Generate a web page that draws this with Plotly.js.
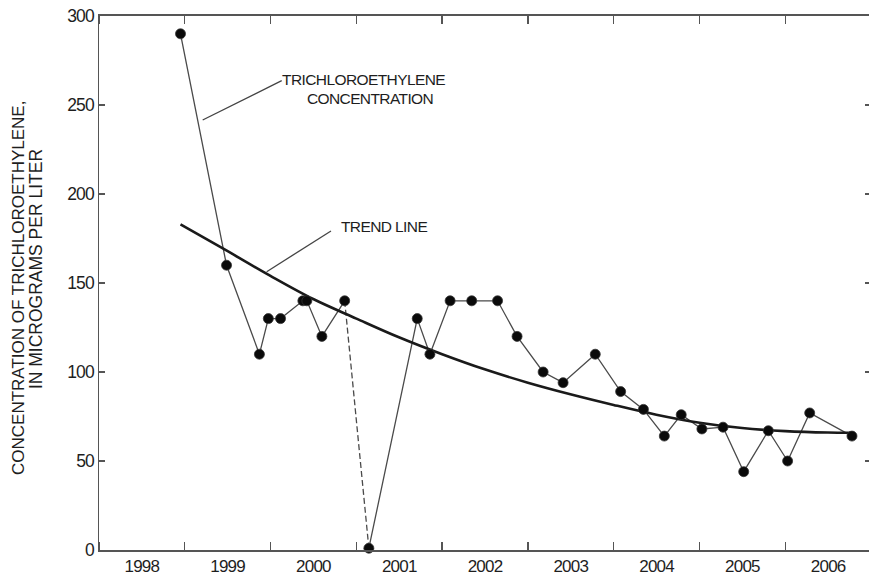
<!DOCTYPE html>
<html><head><meta charset="utf-8">
<script src="https://cdn.plot.ly/plotly-3.0.1.min.js"></script>
<style>
html,body{margin:0;padding:0;overflow:hidden;background:#fff}
#chart .xtick text, #chart .ytick text{letter-spacing:-0.8px}
#chart .annotation[data-index="0"] text,
#chart .annotation[data-index="1"] text,
#chart .annotation[data-index="2"] text{letter-spacing:-0.6px}
</style>
</head><body><div id="chart" style="width:871px;height:584px"></div>
<script>
// Sampling dates and trichloroethylene concentration (micrograms per liter)
const sampleDates = ['1998-12-14','1999-06-28','1999-11-15','1999-12-23','2000-02-13','2000-05-18','2000-06-04','2000-08-07','2000-11-12','2001-02-23','2001-09-17','2001-11-10','2002-02-04','2002-05-07','2002-08-25','2002-11-16','2003-03-07','2003-05-31','2003-10-15','2004-01-31','2004-05-07','2004-08-04','2004-10-15','2005-01-11','2005-04-11','2005-07-08','2005-10-21','2006-01-11','2006-04-15','2006-10-12'];
const tceConcentration = [290,160,110,130,130,140,140,120,140,1,130,110,140,140,140,120,100,94,110,89,79,64,76,68,69,44,67,50,77,64];

// Trend line
const trendDates = ['1998-12-14','1999-07-01','2000-01-01','2000-07-01','2001-01-01','2001-07-01','2002-01-01','2002-07-01','2003-01-01','2003-07-01','2004-01-01','2004-07-01','2005-01-01','2005-07-01','2006-01-01','2006-07-01','2006-10-12'];
const trendValues = [183,168,154,141,130,119.5,110,101.5,94,87.5,81.5,76,71.5,68.5,66.8,66,65.9];

const yTickValues = [0,50,100,150,200,250,300];

const FONT = '"Liberation Sans", Arial, Helvetica, sans-serif';

const lineStyle = {color:'#4a4a4a', width:1.3};

const traces = [
  {x: sampleDates.slice(0,9), y: tceConcentration.slice(0,9), mode:'lines', line: lineStyle, hoverinfo:'skip'},
  {x: sampleDates.slice(8,10), y: tceConcentration.slice(8,10), mode:'lines', line: Object.assign({}, lineStyle, {dash:'6px,3px'}), hoverinfo:'skip'},
  {x: sampleDates.slice(9), y: tceConcentration.slice(9), mode:'lines', line: lineStyle, hoverinfo:'skip'},
  {x: trendDates, y: trendValues, mode:'lines', line:{color:'#1a1a1a', width:2.6, shape:'spline'}},
  {x: sampleDates, y: tceConcentration, mode:'markers', cliponaxis:false,
   marker:{size:10, color:'#0a0a0a', line:{color:'#333', width:0.8}}}
];

const layout = {
  width: 871, height: 584,
  margin: {l:99, r:0, t:16, b:34},
  paper_bgcolor:'#fff', plot_bgcolor:'#fff',
  showlegend:false,
  xaxis: {
    type:'date', range:['1998-01-01','2007-01-01'],
    tick0:'1998-01-01', dtick:'M12', tickformat:'%Y', ticklabelmode:'period',
    ticks:'inside', ticklen:8, tickwidth:1.5, tickcolor:'#555',
    showline:true, linecolor:'#555', linewidth:2, mirror:'ticks',
    showgrid:false, zeroline:false,
    tickfont:{family:FONT, size:17, color:'#1e1e1e'}
  },
  yaxis: {
    range:[0,300], tickvals:yTickValues,
    ticks:'inside', ticklen:6, tickwidth:1.2, tickcolor:'#555',
    showline:true, linecolor:'#555', linewidth:1.5, mirror:'ticks',
    showgrid:false, zeroline:false,
    tickfont:{family:FONT, size:17.5, color:'#1e1e1e'}
  },
  shapes: [
    {type:'line', xref:'paper', yref:'paper', x0:0.1343, y0:0.8052, x1:0.2367, y1:0.8789, line:{color:'#444', width:1.3}},
    {type:'line', xref:'paper', yref:'paper', x0:0.2172, y0:0.5212, x1:0.3005, y1:0.5974, line:{color:'#444', width:1.3}}
  ],
  annotations: [
    {text:'TRICHLOROETHYLENE', xref:'paper', yref:'paper', x:0.342, y:0.882, showarrow:false, xanchor:'center', yanchor:'middle', font:{family:FONT, size:15.5, color:'#1e1e1e'}},
    {text:'CONCENTRATION', xref:'paper', yref:'paper', x:0.351, y:0.8446, showarrow:false, xanchor:'center', yanchor:'middle', font:{family:FONT, size:15.5, color:'#1e1e1e'}},
    {text:'TREND LINE', xref:'paper', yref:'paper', x:0.3698, y:0.6049, showarrow:false, xanchor:'center', yanchor:'middle', font:{family:FONT, size:15.5, color:'#1e1e1e'}},
    {text:'CONCENTRATION OF TRICHLOROETHYLENE,', xref:'paper', yref:'paper', x:-0.105, y:0.4906, textangle:-90, showarrow:false, xanchor:'center', yanchor:'middle', font:{family:FONT, size:17, color:'#1e1e1e'}},
    {text:'IN MICROGRAMS PER LITER', xref:'paper', yref:'paper', x:-0.0816, y:0.526, textangle:-90, showarrow:false, xanchor:'center', yanchor:'middle', font:{family:FONT, size:17.5, color:'#1e1e1e'}}
  ]
};

Plotly.newPlot('chart', traces, layout, {displayModeBar:false, staticPlot:true});
</script></body></html>
